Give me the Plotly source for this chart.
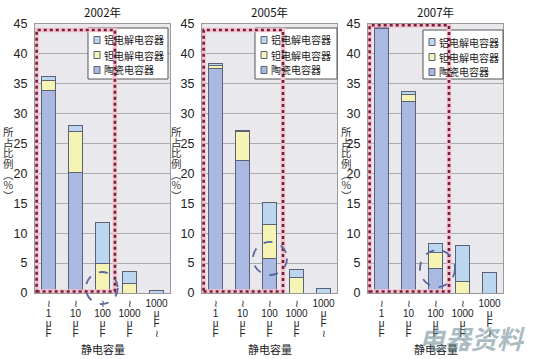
import plotly.graph_objects as go

# ---------------- data ----------------
years = ["2002年", "2005年", "2007年"]
categories = ["≀1μF", "≀10μF", "≀100μF", "≀1000μF", "1000μF≀"]
tick_lines = [["≀", "1", "μ", "F"], ["≀", "10", "μ", "F"], ["≀", "100", "μ", "F"],
              ["≀", "1000", "μ", "F"], ["1000", "μ", "F", "≀"]]
series_names = ["陶瓷电容器", "钽电解电容器", "铝电解电容器"]

ceramic_2002 = [33.8, 20.2, 0.0, 0.0, 0.0]
tantalum_2002 = [1.8, 6.9, 5.0, 1.6, 0.0]
aluminum_2002 = [0.7, 1.0, 6.8, 2.0, 0.4]

ceramic_2005 = [37.6, 22.1, 5.8, 0.0, 0.0]
tantalum_2005 = [0.5, 5.0, 5.7, 2.6, 0.0]
aluminum_2005 = [0.3, 0.1, 3.7, 1.4, 0.7]

ceramic_2007 = [44.2, 32.0, 4.1, 0.0, 0.0]
tantalum_2007 = [0.1, 1.2, 2.7, 1.9, 0.0]
aluminum_2007 = [0.1, 0.5, 1.5, 6.1, 3.4]

y_ticks = [0, 5, 10, 15, 20, 25, 30, 35, 40, 45]
y_title = "所占比例(%)"
x_title = "静电容量"
watermark = "电器资料"

panels = [
    (ceramic_2002, tantalum_2002, aluminum_2002),
    (ceramic_2005, tantalum_2005, aluminum_2005),
    (ceramic_2007, tantalum_2007, aluminum_2007),
]

# ---------------- style ----------------
W, H = 540, 359
colors = ["#aab9e2", "#f6f4b4", "#bcd6ef"]
bar_line = "#5c6175"
cjk = "Noto Sans CJK SC"
font_main = "Arial, Liberation Sans, Noto Sans CJK SC, sans-serif"

xdom_px = [(35, 170), (202, 337), (368, 503)]
ydom = [(H - 293) / H, (H - 24) / H]
legend_box = [(88, 28, 168, 79), (255, 28, 337, 79), (423, 30, 503, 79)]
ytitle_x = [8, 176, 346]
circles = [
    (0.376, 0.613, -0.041, 0.078),
    (0.378, 0.630, 0.067, 0.190),
    (0.385, 0.644, 0.022, 0.160),
]
rect_right = [2.46, 2.5, 2.5]
rect_top = [44.0, 44.0, 44.8]

def px(x):
    return x / W

def py(y):
    return 1 - y / H

def tick_label(lines):
    return "<br>".join(f"<span style='font-size:10px'>{s}</span>" for s in lines)

ticktext = [tick_label(l) for l in tick_lines]

fig = go.Figure()
shapes = []
annotations = []
layout = {}

for i, (year, vals) in enumerate(zip(years, panels)):
    sfx = "" if i == 0 else str(i + 1)
    xa, ya = "x" + sfx, "y" + sfx
    for name, v, c in zip(series_names, vals, colors):
        fig.add_trace(go.Bar(
            x=categories, y=v, name=name, xaxis=xa, yaxis=ya,
            marker=dict(color=c, line=dict(color=bar_line, width=1)),
            width=0.5, showlegend=False,
        ))
    x0, x1 = xdom_px[i]
    layout["xaxis" + sfx] = dict(
        domain=[px(x0), px(x1)], anchor=ya, type="category",
        categoryorder="array", categoryarray=categories,
        tickvals=categories, ticktext=ticktext, tickangle=0,
        tickfont=dict(size=7.6, color="#222", family=font_main),
        showgrid=False, showline=True, linecolor="#9a9a9a", mirror=True,
        ticks="", range=[-0.5, 4.5], automargin=False, ticklabelstandoff=4,
    )
    layout["yaxis" + sfx] = dict(
        domain=ydom, anchor=xa, range=[0, 45], tickvals=y_ticks,
        tickfont=dict(size=12.5, color="#222", family=font_main),
        showgrid=True, gridcolor="#ababab", gridwidth=1,
        showline=True, linecolor="#9a9a9a", mirror=True,
        zeroline=False, ticks="", ticklabelstandoff=4, automargin=False,
    )
    # legend box (one per panel)
    bl, bt, br, bb = legend_box[i]
    shapes.append(dict(type="rect", xref="paper", yref="paper", x0=px(bl), x1=px(br), y0=py(bb), y1=py(bt),
                       fillcolor="white", line=dict(color="#555", width=1), layer="above"))
    row_off = [12, 27, 42]
    for k, (name, c) in enumerate(zip(reversed(series_names), reversed(colors))):
        cy = bt + row_off[k]
        shapes.append(dict(type="rect", xref="paper", yref="paper",
                           x0=px(bl + 6), x1=px(bl + 12), y0=py(cy + 3.5), y1=py(cy - 3.5),
                           fillcolor=c, line=dict(color=bar_line, width=1), layer="above"))
        annotations.append(dict(text=name, x=px(bl + 13.5), y=py(cy), xref="paper", yref="paper",
                                xanchor="left", yanchor="middle", showarrow=False,
                                font=dict(size=10, family=cjk, color="#222")))
    # red dotted highlight rectangle
    for col, wd, dash in [("#f3c3cd", 4.5, "solid"), ("#7b1c3c", 2.6, "dot")]:
        shapes.append(dict(type="rect", xref=xa, yref=ya, x0=-0.44, x1=rect_right[i],
                           y0=0.25, y1=rect_top[i],
                           line=dict(color=col, width=wd, dash=dash), layer="above"))
    cx0, cx1, cy0, cy1 = circles[i]
    shapes.append(dict(type="circle", xref=xa + " domain", yref=ya + " domain",
                       x0=cx0, x1=cx1, y0=cy0, y1=cy1,
                       line=dict(color="#56689e", width=1.8, dash="dash")))
    # panel title
    annotations.append(dict(text=year, x=px((x0 + x1) / 2), y=py(12), xref="paper", yref="paper",
                            xanchor="center", yanchor="middle",
                            showarrow=False, font=dict(size=11.5, family=cjk, color="#111")))
    # x title
    annotations.append(dict(text=x_title, x=px((x0 + x1) / 2), y=py(349), xref="paper", yref="paper",
                            xanchor="center", yanchor="middle",
                            showarrow=False, font=dict(size=11, family=cjk, color="#222")))
    # y title (vertical stacked characters)
    chars = list(y_title.replace("(", "︵").replace(")", "︶"))
    ytxt = "<br>".join(f"<span style='font-size:10.5px'>{ch}</span>" for ch in chars)
    annotations.append(dict(text=ytxt, x=px(ytitle_x[i]), y=py(163), xref="paper", yref="paper",
                            xanchor="center", yanchor="middle",
                            showarrow=False, font=dict(size=8.2, family=cjk, color="#333")))

annotations.append(dict(text=f"<b><i>{watermark}</i></b>", x=px(472), y=py(337), xref="paper", yref="paper",
                        xanchor="center", yanchor="middle",
                        showarrow=False, font=dict(size=26, family=cjk, color="rgba(95,130,140,0.55)")))

fig.update_layout(
    template="none",
    width=W, height=H, margin=dict(l=0, r=0, t=0, b=0, autoexpand=False),
    paper_bgcolor="white", plot_bgcolor="#e8e8ed",
    barmode="stack", showlegend=False,
    shapes=shapes, annotations=annotations,
    font=dict(family=font_main),
    **layout,
)

fig.write_html("out.html", config={"displayModeBar": False},
               post_script="document.body.style.margin='0';document.body.style.overflow='hidden';")
